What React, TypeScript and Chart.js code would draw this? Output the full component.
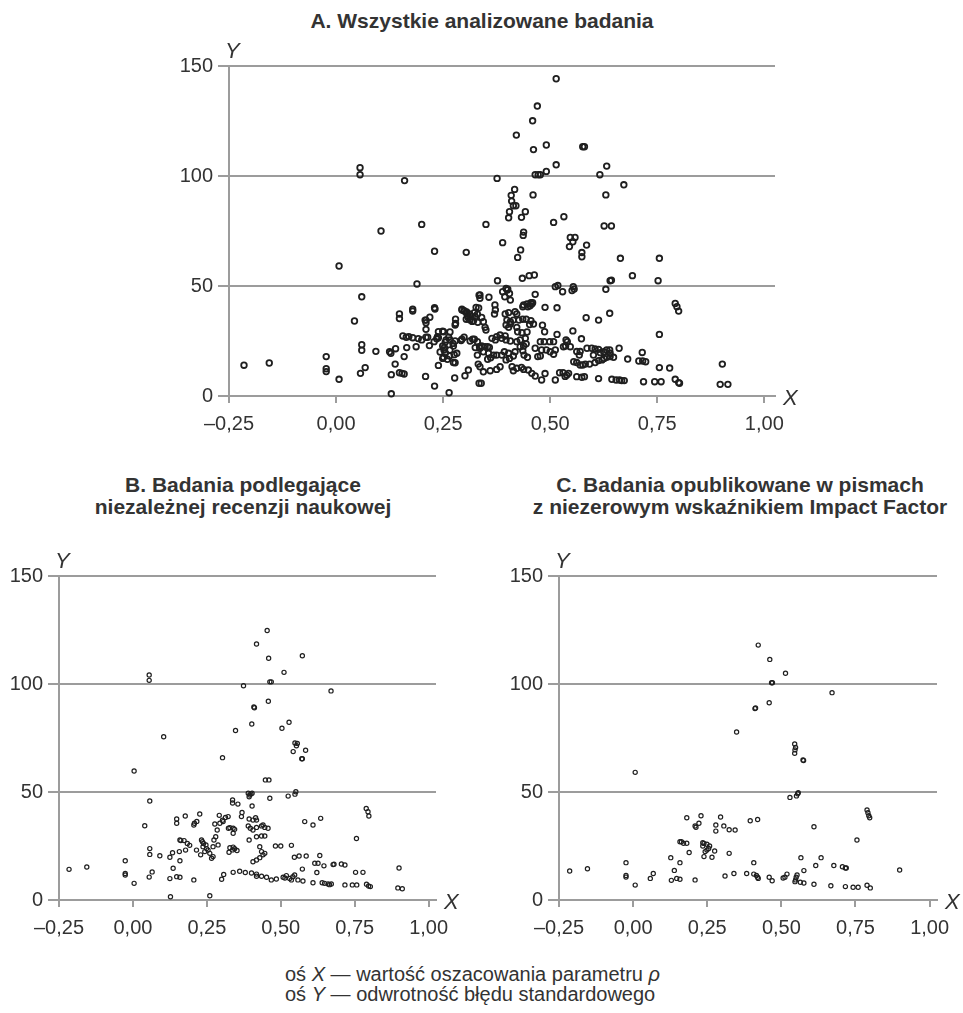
import React, { useEffect, useRef } from "react";
import { Chart, registerables } from "chart.js";

Chart.register(...registerables);

// ---- axis definitions ----
const X_TICKS = [-0.25, 0, 0.25, 0.5, 0.75, 1.0];
const Y_TICKS = [0, 50, 100, 150];
const X_MIN = -0.25;
const X_MAX = 1.025;
const Y_MIN = 0;
const Y_MAX = 150;

// ---- titles ----
const TITLE_A = "A. Wszystkie analizowane badania";
const TITLE_B = ["B. Badania podlegające", "niezależnej recenzji naukowej"];
const TITLE_C = ["C. Badania opublikowane w pismach", "z niezerowym wskaźnikiem Impact Factor"];

// ---- data: [x = oszacowanie ρ, y = 1 / błąd standardowy] ----
const panelA: [number, number][] = [
  [0.056, 103.8], [0.056, 100.6], [0.160, 97.9], [0.105, 75.0], [0.200, 78.0],
  [0.514, 144.2], [0.470, 131.8], [0.459, 125.1], [0.421, 118.6], [0.461, 112.0], [0.491, 114.1],
  [0.576, 113.3], [0.580, 113.3], [0.514, 105.1], [0.632, 104.5], [0.491, 102.1], [0.465, 100.6],
  [0.472, 100.6], [0.477, 100.6], [0.616, 100.6], [0.376, 98.9], [0.672, 96.0], [0.417, 93.9],
  [0.460, 91.4], [0.630, 91.4], [0.409, 91.2], [0.410, 88.6], [0.414, 86.5], [0.420, 86.5],
  [0.405, 83.8], [0.442, 83.8], [0.403, 81.0], [0.433, 81.2], [0.532, 81.5], [0.508, 78.9],
  [0.350, 78.0], [0.626, 77.3], [0.643, 77.3], [0.438, 74.5], [0.437, 73.0], [0.547, 72.1],
  [0.558, 72.1], [0.545, 67.9], [0.553, 70.1], [0.585, 68.6], [0.574, 65.2], [0.574, 63.3],
  [0.007, 59.1], [0.230, 65.8], [0.304, 65.3], [0.189, 50.9], [0.060, 45.1], [0.389, 69.7],
  [0.431, 66.4], [0.424, 63.0], [0.664, 62.6], [0.755, 62.6], [0.692, 54.7], [0.640, 52.4],
  [0.643, 52.6], [0.752, 52.4], [0.630, 48.5], [0.377, 52.4], [0.435, 53.5], [0.451, 54.7],
  [0.463, 55.0], [0.512, 49.7], [0.518, 50.2], [0.554, 49.7], [0.556, 48.6], [0.551, 47.9],
  [0.529, 47.4], [0.465, 46.2], [0.400, 48.2], [0.389, 47.4], [0.407, 43.6], [0.394, 45.1],
  [0.336, 45.9], [0.336, 44.4], [0.357, 44.9], [0.371, 41.4], [0.457, 41.8], [0.453, 41.0],
  [0.448, 40.6], [0.436, 40.6], [0.488, 40.3], [0.516, 40.1], [0.230, 40.1], [0.179, 39.4],
  [0.294, 39.4], [0.327, 40.3], [0.397, 48.9], [0.401, 48.5], [0.405, 46.6], [0.438, 41.4],
  [0.446, 41.8], [0.455, 42.4], [0.459, 42.4], [0.372, 39.1], [0.370, 37.3],
  [-0.215, 14.0], [-0.156, 15.0], [0.043, 34.1], [-0.023, 17.9], [-0.023, 12.4], [-0.023, 11.1],
  [0.007, 7.6], [0.060, 23.3], [0.060, 20.8], [0.057, 10.3], [0.068, 12.9], [0.093, 20.3],
  [0.125, 20.1], [0.128, 19.4], [0.139, 21.5], [0.138, 14.5], [0.129, 9.7], [0.129, 1.0],
  [0.148, 10.6], [0.159, 10.0], [0.159, 17.9], [0.165, 22.0], [0.148, 37.3], [0.148, 35.2],
  [0.179, 38.6], [0.156, 27.3], [0.164, 26.7], [0.179, 26.5], [0.192, 26.1], [0.200, 25.5],
  [0.210, 26.7], [0.187, 22.4], [0.210, 30.3], [0.210, 34.5], [0.219, 35.8], [0.218, 22.9],
  [0.231, 39.5], [0.209, 8.9], [0.230, 4.5], [0.239, 13.9], [0.237, 27.0], [0.235, 26.0],
  [0.249, 29.4], [0.257, 25.5], [0.255, 24.5], [0.249, 22.7], [0.252, 20.9], [0.243, 20.0],
  [0.251, 17.6], [0.260, 16.7], [0.266, 20.9], [0.274, 22.7], [0.266, 29.1], [0.276, 18.8],
  [0.278, 15.1], [0.264, 1.5], [0.277, 8.2], [0.279, 34.9], [0.279, 33.0], [0.292, 25.2],
  [0.299, 26.7], [0.300, 38.6], [0.305, 38.2], [0.307, 36.5], [0.313, 34.6], [0.318, 33.9],
  [0.323, 37.9], [0.325, 36.0], [0.330, 37.2], [0.331, 33.5], [0.333, 40.0], [0.312, 37.3],
  [0.301, 9.2], [0.309, 11.8], [0.325, 22.0], [0.319, 25.8], [0.334, 45.8], [0.332, 14.5],
  [0.334, 5.8], [0.208, 34.5], [0.294, 39.1], [0.299, 38.8], [0.305, 37.6], [0.304, 34.9],
  [0.309, 35.4], [0.315, 36.4], [0.278, 32.3], [0.321, 34.2], [0.340, 35.7], [0.344, 33.8],
  [0.348, 31.2], [0.350, 30.0], [0.395, 37.3], [0.403, 37.9], [0.418, 38.3], [0.422, 37.3],
  [0.399, 34.5], [0.407, 33.8], [0.414, 34.5], [0.397, 32.3], [0.407, 32.7], [0.403, 31.2],
  [0.422, 31.2], [0.427, 34.5], [0.436, 34.9], [0.444, 34.9], [0.455, 34.2], [0.461, 32.7],
  [0.452, 32.5], [0.482, 32.2], [0.487, 29.2], [0.424, 29.2], [0.434, 28.8], [0.446, 29.1],
  [0.442, 26.2], [0.444, 23.7], [0.516, 28.0], [0.553, 29.6], [0.573, 26.0], [0.477, 24.7],
  [0.486, 24.7], [0.499, 24.7], [0.537, 25.5], [0.540, 24.7], [0.531, 22.4], [0.536, 22.7],
  [0.547, 22.4], [0.562, 20.2], [0.570, 20.2], [0.568, 18.6], [0.584, 35.6], [0.613, 34.5],
  [0.639, 37.6], [0.792, 42.1], [0.796, 40.6], [0.800, 38.6], [0.755, 28.0],
  [0.375, 18.6], [0.387, 18.6], [0.393, 20.1], [0.397, 25.5], [0.383, 27.7], [0.375, 27.0],
  [0.395, 27.3], [0.387, 26.2], [0.372, 25.5], [0.364, 26.2], [0.354, 22.4], [0.358, 22.1],
  [0.340, 22.7], [0.335, 22.4], [0.330, 18.6], [0.354, 16.7], [0.361, 17.4], [0.368, 18.6],
  [0.403, 19.4], [0.397, 16.4], [0.405, 17.1], [0.414, 18.2], [0.418, 20.1], [0.407, 25.0],
  [0.422, 24.7], [0.430, 25.5], [0.430, 22.4], [0.438, 22.7], [0.436, 20.6], [0.439, 18.6],
  [0.447, 17.6], [0.471, 17.9], [0.477, 18.2], [0.465, 21.7], [0.480, 20.9], [0.491, 20.9],
  [0.500, 20.1], [0.508, 19.0], [0.512, 20.9], [0.508, 24.7],
  [0.356, 19.4], [0.344, 20.1], [0.336, 21.7], [0.348, 22.4], [0.330, 24.7], [0.323, 25.8],
  [0.313, 25.0], [0.294, 25.8], [0.278, 25.0], [0.273, 23.9], [0.266, 25.5], [0.251, 29.2],
  [0.239, 29.2], [0.239, 26.5], [0.263, 26.7], [0.253, 22.1], [0.255, 19.4], [0.249, 17.1],
  [0.265, 18.2], [0.274, 15.2], [0.282, 19.4], [0.170, 27.0], [0.214, 26.7], [0.229, 24.7],
  [0.210, 33.3], [0.154, 10.3],
  [0.586, 21.7], [0.597, 21.7], [0.605, 21.4], [0.613, 21.2], [0.617, 19.7], [0.625, 20.1],
  [0.632, 20.9], [0.639, 20.9], [0.640, 19.4], [0.661, 21.7], [0.601, 18.6], [0.613, 16.1],
  [0.621, 16.4], [0.626, 17.1], [0.632, 17.6], [0.640, 17.9], [0.648, 17.6], [0.592, 14.5],
  [0.605, 15.2], [0.570, 14.1], [0.576, 14.1], [0.582, 14.5], [0.555, 15.6], [0.562, 15.2],
  [0.681, 16.8], [0.707, 15.9], [0.716, 15.9], [0.723, 15.6], [0.715, 19.8], [0.755, 12.9],
  [0.779, 12.7], [0.902, 14.5], [0.897, 5.3], [0.915, 5.3], [0.792, 7.6], [0.800, 6.1],
  [0.802, 5.8], [0.718, 6.5], [0.744, 6.5], [0.759, 6.5], [0.644, 7.6], [0.654, 7.3],
  [0.662, 7.3], [0.667, 7.0], [0.673, 7.0], [0.613, 7.9],
  [0.562, 8.8], [0.574, 8.5], [0.580, 8.8], [0.539, 9.5], [0.543, 10.3], [0.535, 8.9],
  [0.512, 7.3], [0.522, 10.6], [0.530, 10.6], [0.488, 10.2], [0.480, 7.3], [0.465, 9.1],
  [0.457, 10.3], [0.449, 11.8], [0.438, 12.1], [0.433, 13.0], [0.422, 12.6], [0.411, 13.3],
  [0.414, 11.5], [0.383, 13.3], [0.375, 12.1], [0.360, 11.5], [0.344, 11.0], [0.336, 13.3],
  [0.339, 5.8],
];

const panelB: [number, number][] = [
  [0.454, 124.8], [0.418, 118.5], [0.459, 111.9], [0.573, 113.1], [0.511, 105.4], [0.055, 104.2],
  [0.055, 101.7], [0.463, 101.0], [0.468, 101.0], [0.374, 99.2], [0.670, 96.8], [0.458, 92.0],
  [0.409, 89.4], [0.411, 89.0], [0.528, 82.3], [0.402, 81.5], [0.504, 79.5], [0.347, 78.5],
  [0.104, 75.6], [0.548, 72.7], [0.553, 71.4], [0.556, 72.5], [0.542, 68.7], [0.584, 69.3],
  [0.571, 65.4], [0.573, 65.4], [0.303, 65.9], [0.004, 59.7],
  [0.057, 45.8], [0.040, 34.4], [-0.026, 18.2], [-0.026, 12.3], [-0.026, 11.6], [0.004, 7.7],
  [-0.216, 14.2], [-0.156, 15.3], [0.057, 23.8], [0.057, 21.1], [0.065, 13.0], [0.055, 10.6],
  [0.091, 20.5], [0.127, 1.5], [0.125, 9.9], [0.125, 19.8], [0.134, 21.9], [0.136, 14.7],
  [0.148, 10.8], [0.159, 10.5], [0.159, 18.2], [0.148, 37.5], [0.148, 35.5],
  [0.159, 27.8], [0.162, 27.5], [0.173, 27.5], [0.184, 26.2], [0.192, 25.3], [0.178, 23.1],
  [0.157, 22.4], [0.177, 38.9], [0.226, 39.8], [0.206, 34.7], [0.208, 35.5], [0.216, 36.4],
  [0.206, 9.3], [0.215, 23.1],
  [0.232, 27.8], [0.235, 27.0], [0.239, 26.2], [0.237, 24.7], [0.243, 22.4], [0.249, 23.8],
  [0.254, 23.1], [0.260, 21.6], [0.271, 24.7], [0.266, 19.3], [0.271, 20.1], [0.280, 29.3],
  [0.288, 25.5], [0.274, 27.8], [0.247, 25.5], [0.229, 20.9], [0.260, 2.0], [0.300, 9.6],
  [0.307, 11.8], [0.292, 39.2], [0.303, 36.9], [0.313, 38.2], [0.322, 38.6], [0.277, 35.2],
  [0.294, 35.5], [0.305, 36.3], [0.285, 32.4], [0.337, 46.3], [0.337, 44.9], [0.355, 44.4],
  [0.369, 40.5], [0.367, 38.6], [0.323, 33.2], [0.328, 33.5], [0.339, 33.2], [0.344, 32.7],
  [0.339, 30.9], [0.328, 24.2], [0.339, 24.5], [0.344, 23.7], [0.352, 22.9], [0.337, 23.2],
  [0.325, 22.1],
  [0.339, 12.8], [0.361, 13.3], [0.380, 12.7], [0.401, 12.5], [0.418, 12.0], [0.418, 11.0],
  [0.435, 11.0], [0.452, 10.5], [0.468, 9.3], [0.485, 9.7], [0.514, 10.2], [0.519, 11.3],
  [0.508, 10.5],
  [0.390, 49.4], [0.395, 48.6], [0.393, 47.8], [0.403, 49.4], [0.399, 49.1], [0.403, 43.5],
  [0.393, 37.5], [0.406, 37.0], [0.415, 38.1], [0.418, 37.0], [0.390, 34.3], [0.397, 33.2],
  [0.406, 32.4], [0.418, 33.6], [0.435, 34.3], [0.440, 34.7], [0.446, 33.6], [0.457, 33.2],
  [0.393, 27.8], [0.418, 29.3], [0.435, 29.6], [0.446, 29.6], [0.429, 24.7], [0.435, 22.4],
  [0.440, 20.9], [0.446, 21.6], [0.418, 18.5], [0.406, 17.7], [0.429, 19.6],
  [0.448, 55.6], [0.460, 55.6], [0.463, 47.1], [0.482, 25.0], [0.500, 25.0], [0.536, 25.3],
  [0.525, 48.1], [0.548, 49.0], [0.551, 50.1], [0.546, 19.8], [0.562, 20.4], [0.586, 20.4],
  [0.573, 14.3], [0.530, 10.0], [0.536, 9.3], [0.541, 10.8], [0.547, 11.6], [0.558, 9.3],
  [0.575, 8.8], [0.581, 36.3], [0.609, 34.7], [0.635, 37.8], [0.632, 20.6], [0.609, 8.0],
  [0.615, 17.0], [0.626, 17.0], [0.622, 12.7], [0.646, 15.8], [0.640, 8.0], [0.648, 7.7],
  [0.660, 7.4], [0.665, 7.1], [0.671, 7.4], [0.677, 16.4], [0.680, 16.6], [0.705, 16.7],
  [0.717, 16.2], [0.717, 7.0], [0.742, 7.0], [0.757, 7.0], [0.753, 12.8], [0.778, 12.8],
  [0.756, 28.5], [0.789, 42.4], [0.795, 40.9], [0.798, 38.9], [0.790, 7.3], [0.797, 6.5],
  [0.803, 6.2], [0.900, 14.8], [0.896, 5.6], [0.911, 5.2],
];

const panelC: [number, number][] = [
  [0.422, 118.0], [0.461, 111.4], [0.514, 105.0], [0.467, 100.6], [0.470, 100.6], [0.671, 96.0],
  [0.459, 91.3], [0.411, 88.6], [0.413, 88.9], [0.349, 77.8], [0.545, 72.2], [0.548, 70.6],
  [0.546, 69.5], [0.545, 67.9], [0.573, 64.8], [0.575, 64.6], [0.007, 59.1],
  [0.529, 47.5], [0.551, 48.2], [0.557, 49.7], [0.555, 49.2], [-0.214, 13.4], [-0.154, 14.5],
  [-0.024, 17.3], [-0.024, 11.4], [-0.024, 10.6], [0.007, 6.9], [0.058, 10.0], [0.068, 12.3],
  [0.127, 19.6], [0.139, 13.7], [0.129, 9.1], [0.147, 10.0], [0.158, 9.6], [0.158, 17.3],
  [0.158, 27.0], [0.163, 27.0], [0.170, 26.3], [0.181, 26.3], [0.181, 38.1], [0.189, 22.0],
  [0.209, 9.3], [0.209, 34.3], [0.212, 33.7], [0.222, 35.5], [0.229, 39.0],
  [0.235, 26.5], [0.239, 26.2], [0.235, 25.0], [0.249, 25.8], [0.258, 25.0], [0.255, 23.9],
  [0.243, 22.4], [0.249, 23.1], [0.266, 19.8], [0.275, 22.7], [0.239, 20.1],
  [0.279, 34.7], [0.279, 31.9], [0.295, 38.4], [0.306, 34.3], [0.324, 32.5], [0.344, 32.4],
  [0.324, 21.6], [0.310, 11.1], [0.340, 12.3], [0.383, 12.3], [0.395, 36.7], [0.420, 37.3],
  [0.407, 17.3], [0.407, 12.0], [0.416, 11.4], [0.420, 10.5], [0.422, 10.0], [0.459, 10.5],
  [0.469, 8.9], [0.506, 10.2], [0.512, 10.5], [0.519, 12.0],
  [0.546, 8.5], [0.548, 9.3], [0.550, 10.5], [0.553, 11.6], [0.566, 19.6], [0.576, 13.6],
  [0.564, 8.2], [0.576, 7.9], [0.610, 33.9], [0.610, 7.3], [0.616, 16.0], [0.634, 19.6],
  [0.667, 6.6], [0.677, 16.0], [0.706, 15.4], [0.716, 14.8], [0.719, 14.8], [0.716, 6.2],
  [0.742, 5.9], [0.759, 5.9], [0.755, 27.8], [0.789, 41.7], [0.792, 40.4], [0.795, 39.0],
  [0.798, 38.1], [0.789, 6.8], [0.800, 5.6], [0.899, 13.9],
];

// ---- styling ----
const FONT = '"Liberation Sans", Arial, Helvetica, sans-serif';
const INK = "#333333";
const GRID = "#9c9c9c";
const DOT = "#1f1f1f";

const fmtX = (v: number) => {
  const s = Math.abs(v).toFixed(2).replace(".", ",");
  return v < -1e-9 ? "\u2013" + s : s;
};

const axisLetters = {
  id: "axisLetters",
  afterDraw(chart: any) {
    const { ctx, chartArea } = chart;
    ctx.save();
    ctx.fillStyle = INK;
    ctx.font = `italic 22px ${FONT}`;
    ctx.textAlign = "left";
    ctx.textBaseline = "alphabetic";
    ctx.fillText("Y", chartArea.left - 4, chartArea.top - 8);
    ctx.textBaseline = "middle";
    ctx.fillText("X", chartArea.right + 8, chartArea.bottom + 3);
    ctx.restore();
  },
};

type PanelProps = {
  data: [number, number][];
  left: number;
  top: number;
  width: number;
  height: number;
  pad: { left: number; right: number; top: number; bottom: number };
  yWidth: number;
  radius: number;
  border: number;
};

function Panel({ data, left, top, width, height, pad, yWidth, radius, border }: PanelProps) {
  const ref = useRef<HTMLCanvasElement>(null);
  useEffect(() => {
    const chart = new Chart(ref.current as HTMLCanvasElement, {
      type: "scatter",
      data: {
        datasets: [
          {
            data: data.map(([x, y]) => ({ x, y })),
            pointRadius: radius,
            pointHoverRadius: radius,
            pointBorderWidth: border,
            pointBorderColor: DOT,
            pointBackgroundColor: "rgba(0,0,0,0)",
            showLine: false,
            clip: false as any,
          },
        ],
      },
      options: {
        responsive: false,
        animation: false,
        devicePixelRatio: 1,
        events: [],
        layout: { padding: pad },
        plugins: {
          legend: { display: false },
          tooltip: { enabled: false },
          title: { display: false },
        },
        scales: {
          x: {
            type: "linear",
            position: "bottom",
            min: X_MIN,
            max: X_MAX,
            afterBuildTicks: (s: any) => {
              s.ticks = X_TICKS.map((v) => ({ value: v }));
            },
            afterFit: (s: any) => {
              s.height = 40;
            },
            grid: {
              drawOnChartArea: false,
              drawTicks: true,
              tickLength: 7,
              color: GRID,
              lineWidth: 2,
            },
            border: { display: true, color: GRID, width: 2 },
            ticks: {
              callback: (v: any) => fmtX(Number(v)),
              font: { family: FONT, size: 20 },
              color: INK,
              padding: 9,
              autoSkip: false,
              maxRotation: 0,
            },
          },
          y: {
            type: "linear",
            min: Y_MIN,
            max: Y_MAX,
            afterBuildTicks: (s: any) => {
              s.ticks = Y_TICKS.map((v) => ({ value: v }));
            },
            afterFit: (s: any) => {
              s.width = yWidth;
            },
            grid: {
              drawOnChartArea: true,
              drawTicks: true,
              tickLength: 11,
              color: GRID,
              lineWidth: 2,
            },
            border: { display: true, color: GRID, width: 2 },
            ticks: {
              font: { family: FONT, size: 20 },
              color: INK,
              padding: 5,
              autoSkip: false,
            },
          },
        },
      },
      plugins: [axisLetters],
    });
    return () => chart.destroy();
  }, []);
  return (
    <canvas
      ref={ref}
      width={width}
      height={height}
      style={{ position: "absolute", left, top, width, height }}
    />
  );
}

const titleStyle: React.CSSProperties = {
  position: "absolute",
  transform: "translateX(-50%)",
  whiteSpace: "nowrap",
  textAlign: "center",
  fontFamily: FONT,
  fontWeight: "bold",
  fontSize: 21,
  lineHeight: "21.6px",
  color: INK,
};

export default function App() {
  return (
    <div
      style={{
        position: "absolute",
        left: 0,
        top: 0,
        width: 963,
        height: 1013,
        background: "#ffffff",
        overflow: "hidden",
      }}
    >
      <div style={{ ...titleStyle, left: 482, top: 9, lineHeight: "24px" }}>{TITLE_A}</div>
      <div style={{ ...titleStyle, left: 243, top: 474 }}>
        {TITLE_B[0]}
        <br />
        {TITLE_B[1]}
      </div>
      <div style={{ ...titleStyle, left: 740, top: 474 }}>
        {TITLE_C[0]}
        <br />
        {TITLE_C[1]}
      </div>

      <Panel
        data={panelA}
        left={0}
        top={0}
        width={963}
        height={440}
        pad={{ left: 0, right: 188, top: 66, bottom: 4 }}
        yWidth={229}
        radius={2.8}
        border={1.8}
      />
      <Panel
        data={panelB}
        left={0}
        top={540}
        width={480}
        height={400}
        pad={{ left: 0, right: 44, top: 36, bottom: 0 }}
        yWidth={59}
        radius={2.1}
        border={1.2}
      />
      <Panel
        data={panelC}
        left={480}
        top={540}
        width={483}
        height={400}
        pad={{ left: 0, right: 26, top: 36, bottom: 0 }}
        yWidth={79}
        radius={2.1}
        border={1.2}
      />

      <div
        style={{
          position: "absolute",
          left: 285,
          top: 964,
          fontFamily: FONT,
          fontSize: 20,
          lineHeight: "20px",
          color: INK,
          whiteSpace: "nowrap",
        }}
      >
        oś <i>X</i> — wartość oszacowania parametru <i>ρ</i>
        <br />
        oś <i>Y</i> — odwrotność błędu standardowego
      </div>
    </div>
  );
}
